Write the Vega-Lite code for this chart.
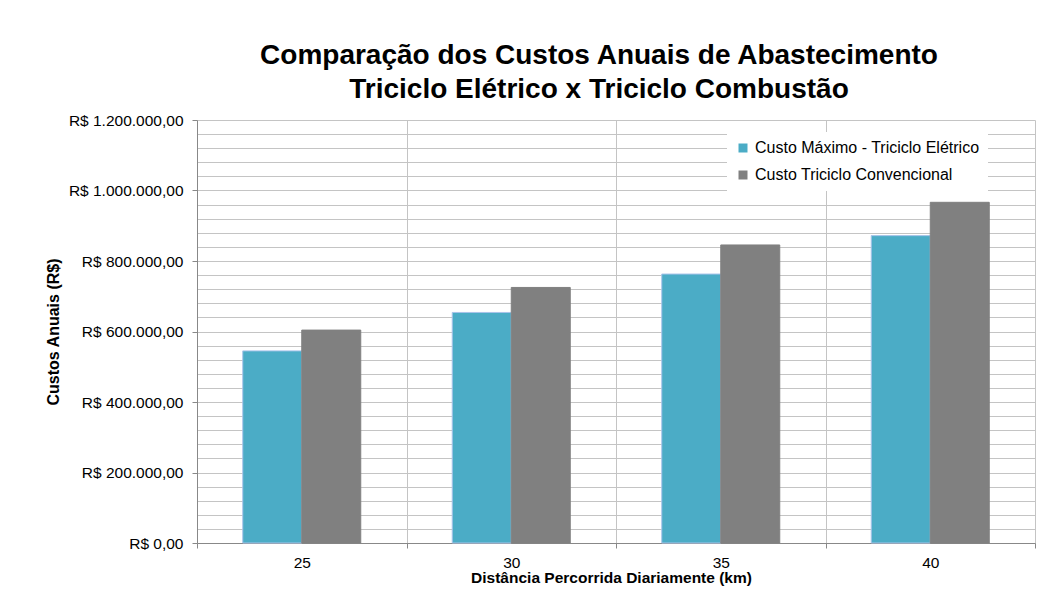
{
  "$schema": "https://vega.github.io/schema/vega-lite/v6.json",
  "width": 838,
  "height": 423,
  "autosize": "none",
  "padding": {"left": 197, "top": 120, "right": 24, "bottom": 46},
  "background": "white",
  "config": {
    "locale": {"number": {"decimal": ",", "thousands": ".", "grouping": [3], "currency": ["R$ ", ""]}},
    "font": "Liberation Sans",
    "view": {"stroke": null}
  },
  "title": {
    "text": ["Comparação dos Custos Anuais de Abastecimento", "Triciclo Elétrico x Triciclo Combustão"],
    "fontSize": 28,
    "fontWeight": "bold",
    "color": "black",
    "anchor": "middle",
    "dx": -17,
    "offset": 9,
    "lineHeight": 34
  },
  "data": {
    "values": [
      {"km": "25", "serie": "Custo Máximo - Triciclo Elétrico", "custo": 545000},
      {"km": "25", "serie": "Custo Triciclo Convencional", "custo": 604000},
      {"km": "30", "serie": "Custo Máximo - Triciclo Elétrico", "custo": 654000},
      {"km": "30", "serie": "Custo Triciclo Convencional", "custo": 725000},
      {"km": "35", "serie": "Custo Máximo - Triciclo Elétrico", "custo": 763000},
      {"km": "35", "serie": "Custo Triciclo Convencional", "custo": 845500},
      {"km": "40", "serie": "Custo Máximo - Triciclo Elétrico", "custo": 872000},
      {"km": "40", "serie": "Custo Triciclo Convencional", "custo": 966500}
    ]
  },
  "mark": {"type": "bar", "strokeWidth": 1},
  "encoding": {
    "x": {
      "field": "km",
      "type": "nominal",
      "scale": {"paddingInner": 0, "paddingOuter": 0},
      "axis": {
        "title": "Distância Percorrida Diariamente (km)",
        "labelAngle": 0,
        "tickBand": "extent",
        "grid": true,
        "gridColor": "#c4c4c4",
        "domainColor": "#888888",
        "tickColor": "#888888",
        "tickSize": 5,
        "labelFontSize": 15.5,
        "labelColor": "black",
        "labelPadding": 7,
        "titleFontSize": 15.5,
        "titleFontWeight": "bold",
        "titleColor": "black",
        "titleX": 414,
        "titleY": 42,
        "titleBaseline": "bottom"
      }
    },
    "xOffset": {
      "field": "serie",
      "type": "nominal",
      "sort": ["Custo Máximo - Triciclo Elétrico", "Custo Triciclo Convencional"],
      "scale": {"paddingOuter": 0.775, "paddingInner": 0}
    },
    "y": {
      "field": "custo",
      "type": "quantitative",
      "scale": {"domain": [0, 1200000], "nice": false},
      "axis": {
        "title": "Custos Anuais (R$)",
        "values": [0, 40000, 80000, 120000, 160000, 200000, 240000, 280000, 320000, 360000, 400000, 440000, 480000, 520000, 560000, 600000, 640000, 680000, 720000, 760000, 800000, 840000, 880000, 920000, 960000, 1000000, 1040000, 1080000, 1120000, 1160000, 1200000],
        "format": "$,.2f",
        "labelExpr": "datum.value % 200000 === 0 ? datum.label : ''",
        "tickOpacity": {"condition": {"test": "datum.value % 200000 === 0", "value": 1}, "value": 0},
        "grid": true,
        "gridColor": "#c4c4c4",
        "domainColor": "#888888",
        "tickColor": "#888888",
        "tickSize": 5,
        "labelFontSize": 15.5,
        "labelColor": "black",
        "labelPadding": 9,
        "labelOverlap": false,
        "titleFontSize": 16,
        "titleFontWeight": "bold",
        "titleColor": "black",
        "titlePadding": 7
      }
    },
    "color": {
      "field": "serie",
      "type": "nominal",
      "sort": ["Custo Máximo - Triciclo Elétrico", "Custo Triciclo Convencional"],
      "scale": {"domain": ["Custo Máximo - Triciclo Elétrico", "Custo Triciclo Convencional"], "range": ["#4bacc6", "#808080"]},
      "legend": {
        "title": null,
        "orient": "none",
        "legendX": 530,
        "legendY": 12,
        "fillColor": "white",
        "padding": 8,
        "symbolType": "square",
        "symbolSize": 81,
        "symbolStrokeWidth": 0,
        "labelFontSize": 16,
        "labelColor": "black",
        "labelOffset": 4,
        "rowPadding": 11,
        "labelLimit": 400
      }
    },
    "stroke": {
      "field": "serie",
      "type": "nominal",
      "scale": {"domain": ["Custo Máximo - Triciclo Elétrico", "Custo Triciclo Convencional"], "range": ["#a9c4ea", "#808080"]},
      "legend": null
    }
  }
}
